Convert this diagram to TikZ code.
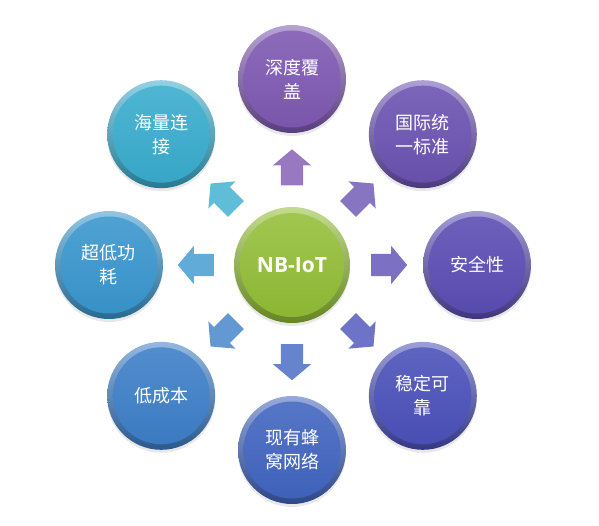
\documentclass[tikz,border=0pt]{standalone}
\usepackage{fontspec}
\setmainfont{Open Sans}
\newfontfamily\cjk{Noto Sans CJK SC}
\usetikzlibrary{shapes.arrows,shadows,calc}
\definecolor{hubcol}{RGB}{146,190,52}
\definecolor{covercol}{RGB}{126,88,178}
\definecolor{stdcol}{RGB}{106,82,178}
\definecolor{safecol}{RGB}{90,76,180}
\definecolor{stablecol}{RGB}{74,80,186}
\definecolor{netcol}{RGB}{64,100,192}
\definecolor{costcol}{RGB}{60,126,200}
\definecolor{powercol}{RGB}{56,150,206}
\definecolor{linkcol}{RGB}{56,172,206}

\tikzset{
  disc/.style={circle,minimum size=108pt,inner sep=0pt,align=center,text=white,
    font=\cjk\fontsize{18}{24}\selectfont,
    top color=#1!55!white,bottom color=#1!70!black,
    path picture={\shade[top color=#1!88!white,bottom color=#1!96!black]
      (path picture bounding box.center) circle (48.5pt);},
    drop shadow={shadow xshift=0pt,shadow yshift=-3pt,opacity=0.18}},
  hub/.style={circle,minimum size=116pt,inner sep=0pt,text=white,
    font=\bfseries\fontsize{21}{24}\selectfont,
    top color=hubcol!55!white,bottom color=hubcol!70!black,
    path picture={\shade[top color=hubcol!85!white,bottom color=hubcol!95!black]
      (path picture bounding box.center) circle (52pt);},
    drop shadow={shadow xshift=0pt,shadow yshift=-3pt,opacity=0.18}},
  fatarrow/.style={single arrow,draw=none,fill=#1!80!white,inner xsep=0pt,inner ysep=11pt,
    minimum height=36pt,minimum width=38pt,single arrow head extend=8pt,
    single arrow tip angle=100}
}

\begin{document}
\begin{tikzpicture}[x=1pt,y=1pt]
\useasboundingbox (-292,-260) rectangle (307,265);

% centre
\node[hub] (core) at (0,0) {NB-IoT};

% features round the centre
\node[disc=covercol] (coverage) at (90:186) {深度覆\\盖};
\node[disc=stdcol] (standard) at (45:185) {国际统\\一标准};
\node[disc=safecol] (security) at (0:185) {安全性};
\node[disc=stablecol] (reliable) at (-45:185) {稳定可\\靠};
\node[disc=netcol] (network) at (-90:185) {现有蜂\\窝网络};
\node[disc=costcol] (cost) at (-135:185) {低成本};
\node[disc=powercol] (power) at (180:183) {超低功\\耗};
\node[disc=linkcol] (massive) at (135:185) {海量连\\接};

% block arrows half way out
\node[fatarrow=covercol,rotate=90] (arrcoverage) at ($(core)!0.5!(coverage)$) {};
\node[fatarrow=stdcol,rotate=45] (arrstandard) at ($(core)!0.5!(standard)$) {};
\node[fatarrow=safecol,rotate=0] (arrsecurity) at ($(core)!0.5!(security)$) {};
\node[fatarrow=stablecol,rotate=-45] (arrreliable) at ($(core)!0.5!(reliable)$) {};
\node[fatarrow=netcol,rotate=-90] (arrnetwork) at ($(core)!0.5!(network)$) {};
\node[fatarrow=costcol,rotate=-135] (arrcost) at ($(core)!0.5!(cost)$) {};
\node[fatarrow=powercol,rotate=180] (arrpower) at ($(core)!0.5!(power)$) {};
\node[fatarrow=linkcol,rotate=135] (arrmassive) at ($(core)!0.5!(massive)$) {};

\end{tikzpicture}
\end{document}
